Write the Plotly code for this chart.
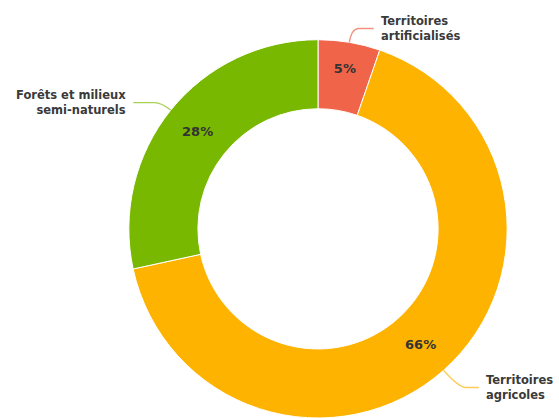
import math
import plotly.graph_objects as go

labels = ["Territoires artificialisés", "Territoires agricoles", "Forêts et milieux semi-naturels"]
label_text = ["Territoires<br>artificialisés", "Territoires<br>agricoles", "Forêts et milieux<br>semi-naturels"]
values = [5.3, 66.3, 28.4]
colors = ["#F0654A", "#FDB300", "#78B800"]

W, H = 559, 418
dom_x = [128 / W, 508 / W]
dom_y = [0.0, 0.905]
hole = 0.635

fig = go.Figure()
fig.add_trace(go.Pie(
    labels=labels, values=values, sort=False, direction="clockwise", rotation=0,
    hole=hole, domain=dict(x=dom_x, y=dom_y),
    marker=dict(colors=colors, line=dict(color="white", width=1)),
    textinfo="percent", texttemplate="%{percent:.0%}",
    textposition="inside", insidetextorientation="horizontal",
    insidetextfont=dict(family="DejaVu Sans", size=13, color="#333333", weight=700),
    showlegend=False, hoverinfo="label+percent",
))

# geometry derived from the pie domain
cx = (dom_x[0] + dom_x[1]) / 2 * W
cy = (1 - (dom_y[0] + dom_y[1]) / 2) * H
R = min((dom_x[1] - dom_x[0]) * W, (dom_y[1] - dom_y[0]) * H) / 2

total = sum(values)
ext = [14, 23, 12]      # radial extension of leader
horiz = [22, 20, 28]    # horizontal leg
line_cols = ["#F3937F", "#FDCB55", "#A6D155"]
shapes, annotations = [], []
cum = 0.0
for i, v in enumerate(values):
    mid = (cum + v / 2) / total * 2 * math.pi
    cum += v
    dx, dy = math.sin(mid), -math.cos(mid)
    x0, y0 = cx + R * dx, cy + R * dy
    x1, y1 = cx + (R + ext[i]) * dx, cy + (R + ext[i]) * dy
    side = 1 if dx >= 0 else -1
    xc = x1 + side * 7
    x2 = x1 + side * horiz[i]
    path = f"M {x0:.1f},{y0:.1f} Q {x1:.1f},{y1:.1f} {xc:.1f},{y1:.1f} L {x2:.1f},{y1:.1f}"
    shapes.append(dict(type="path", path=path, xref="x", yref="y",
                       line=dict(color=line_cols[i], width=1.3), layer="above"))
    annotations.append(dict(
        x=x2 + side * 5, y=y1, xref="x", yref="y", text=label_text[i], showarrow=False,
        xanchor="left" if side > 0 else "right", yanchor="middle",
        align="left" if side > 0 else "right",
        font=dict(family="DejaVu Sans", size=11.5, color="#3a3a3a", weight=700),
    ))

fig.update_layout(
    width=W, height=H, margin=dict(l=0, r=0, t=0, b=0),
    paper_bgcolor="white", plot_bgcolor="rgba(0,0,0,0)",
    xaxis=dict(range=[0, W], visible=False, fixedrange=True),
    yaxis=dict(range=[H, 0], visible=False, fixedrange=True),
    shapes=shapes, annotations=annotations,
)
fig.write_html("out.html")
